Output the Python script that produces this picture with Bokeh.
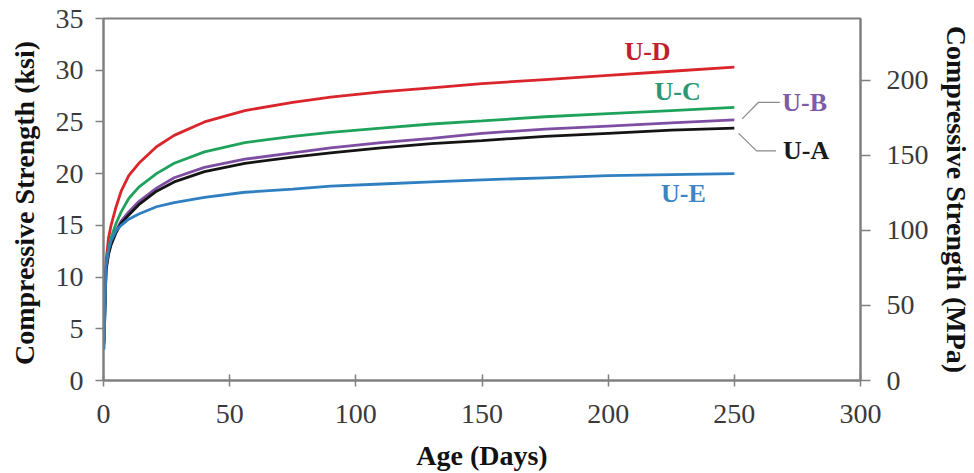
from bokeh.plotting import figure
from bokeh.models import Range1d, LinearAxis, FixedTicker
from bokeh.core.properties import value
from bokeh.embed import file_html
from bokeh.resources import INLINE

# ---- data ----
days = [0.2, 1, 2, 3, 5, 7, 10, 14, 21, 28, 40, 56, 75, 90, 110, 130, 150, 175, 200, 225, 250]
u_d = [5.0, 11.5, 13.8, 15.0, 16.8, 18.3, 19.8, 21.0, 22.6, 23.7, 25.0, 26.1, 26.9, 27.4, 27.9, 28.3, 28.7, 29.1, 29.5, 29.9, 30.3]
u_c = [4.5, 11.0, 12.8, 13.8, 15.2, 16.3, 17.6, 18.7, 20.0, 21.0, 22.1, 23.0, 23.6, 24.0, 24.4, 24.8, 25.1, 25.5, 25.8, 26.1, 26.4]
u_b = [3.8, 10.8, 12.4, 13.3, 14.5, 15.4, 16.3, 17.3, 18.6, 19.6, 20.6, 21.4, 22.0, 22.5, 23.0, 23.4, 23.9, 24.3, 24.6, 24.9, 25.2]
u_a = [3.5, 10.6, 12.2, 13.1, 14.3, 15.2, 16.0, 17.0, 18.3, 19.2, 20.2, 21.0, 21.6, 22.0, 22.5, 22.9, 23.2, 23.6, 23.9, 24.2, 24.4]
u_e = [3.0, 11.0, 12.6, 13.5, 14.5, 15.0, 15.6, 16.1, 16.8, 17.2, 17.7, 18.2, 18.5, 18.8, 19.0, 19.2, 19.4, 19.6, 19.8, 19.9, 20.0]

series_names = ["U-D", "U-C", "U-B", "U-A", "U-E"]
series_values = [u_d, u_c, u_b, u_a, u_e]
line_colors = ["#d9252b", "#1fa35c", "#7e4ea3", "#141414", "#2f7fc1"]
label_colors = ["#c21f2e", "#2e9670", "#7d5ba6", "#1a1a1a", "#3d86c4"]

# label anchor positions (days, ksi)
label_x = [215.6, 227.5, 269.0, 269.3, 229.8]
label_y = [31.8, 27.9, 26.9, 22.2, 18.1]
label_align = ["center", "center", "left", "left", "center"]

# leader lines for U-B and U-A
leader_b_x = [253.1, 259.6, 268.0]
leader_b_y = [25.3, 26.9, 26.9]
leader_a_x = [251.7, 258.8, 266.5]
leader_a_y = [23.9, 22.2, 22.2]

x_ticks = [0, 50, 100, 150, 200, 250, 300]
ksi_ticks = [0, 5, 10, 15, 20, 25, 30, 35]
mpa_ticks = [0, 50, 100, 150, 200]
KSI_TO_MPA = 6.894757

FONT = "Liberation Serif"
AXIS_GRAY = "#808080"

p = figure(width=974, height=473, output_backend="svg", toolbar_location=None,
           x_range=Range1d(0, 300), y_range=Range1d(0, 35),
           min_border_left=103, min_border_right=114, min_border_top=18, min_border_bottom=93)
p.extra_y_ranges = {"mpa": Range1d(0, 35 * KSI_TO_MPA)}

p.xgrid.visible = False
p.ygrid.visible = False
p.outline_line_color = AXIS_GRAY
p.outline_line_width = 2
p.background_fill_color = "white"
p.border_fill_color = "white"

for name, vals, c in zip(series_names, series_values, line_colors):
    p.line(days, vals, line_color=c, line_width=2.8)

p.line(leader_b_x, leader_b_y, line_color="#8a8a8a", line_width=1.2)
p.line(leader_a_x, leader_a_y, line_color="#8a8a8a", line_width=1.2)

for i in range(len(series_names)):
    p.text(x=[label_x[i]], y=[label_y[i]], text=[series_names[i]],
           text_color=label_colors[i], text_font=value(FONT), text_font_style="bold",
           text_font_size="26px", text_align=label_align[i], text_baseline="middle")

def style_axis(ax, tick_in, tick_out):
    ax.axis_line_color = AXIS_GRAY
    ax.axis_line_width = 2
    ax.major_tick_line_color = AXIS_GRAY
    ax.major_tick_line_width = 1.5
    ax.major_tick_in = tick_in
    ax.major_tick_out = tick_out
    ax.minor_tick_line_color = None
    ax.major_label_text_font = FONT
    ax.major_label_text_font_size = "28px"
    ax.major_label_text_color = "#3a3a3a"
    ax.axis_label_text_font = FONT
    ax.axis_label_text_font_size = "28px"
    ax.axis_label_text_font_style = "bold"
    ax.axis_label_text_color = "#111111"

xa = p.xaxis[0]
xa.ticker = FixedTicker(ticks=x_ticks)
xa.axis_label = "Age (Days)"
style_axis(xa, 6, 6)
xa.major_label_standoff = 18
xa.axis_label_standoff = 14

ya = p.yaxis[0]
ya.ticker = FixedTicker(ticks=ksi_ticks)
ya.axis_label = "Compressive  Strength (ksi)"
style_axis(ya, 0, 8)
ya.major_label_standoff = 12
ya.axis_label_standoff = 13

ra = LinearAxis(y_range_name="mpa", axis_label="Compressive Strength (MPa)")
ra.ticker = FixedTicker(ticks=mpa_ticks)
style_axis(ra, 0, 10)
ra.major_label_standoff = 16
ra.axis_label_standoff = 9
p.add_layout(ra, "right")

open("out.html", "w").write(file_html(p, INLINE))
